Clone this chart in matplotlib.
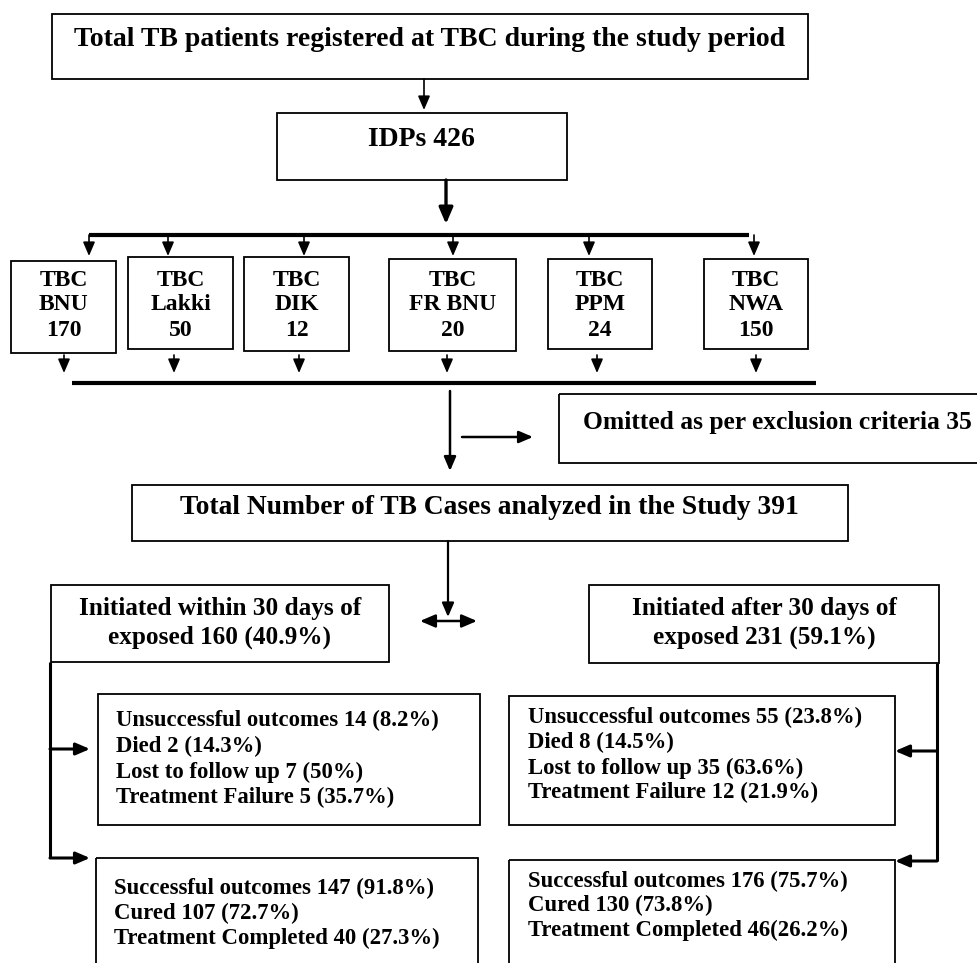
import matplotlib
matplotlib.use("Agg")
import matplotlib.pyplot as plt
from matplotlib.patches import Rectangle

# ---------------- data ----------------
title_text = "Total TB patients registered at TBC during the study period"
idps_total = 426
centre_names = ["BNU", "Lakki", "DIK", "FR BNU", "PPM", "NWA"]
centre_counts = [170, 50, 12, 20, 24, 150]
excluded = 35
analyzed = 391
early_n, early_pct = 160, 40.9
late_n, late_pct = 231, 59.1
early_unsuccess = [("Unsuccessful outcomes", "14 (8.2%)"), ("Died", "2 (14.3%)"),
                   ("Lost to follow up", "7 (50%)"), ("Treatment Failure", "5 (35.7%)")]
late_unsuccess = [("Unsuccessful outcomes", "55 (23.8%)"), ("Died", "8 (14.5%)"),
                  ("Lost to follow up", "35 (63.6%)"), ("Treatment Failure", "12 (21.9%)")]
early_success = [("Successful outcomes", "147 (91.8%)"), ("Cured", "107 (72.7%)"),
                 ("Treatment Completed", "40 (27.3%)")]
late_success = [("Successful outcomes", "176 (75.7%)"), ("Cured", "130 (73.8%)"),
                ("Treatment Completed", "46(26.2%)")]

# ---------------- layout ----------------
W, H = 977, 963
fig = plt.figure(figsize=(W / 100, H / 100), dpi=100)
ax = fig.add_axes([0, 0, 1, 1])
ax.set_xlim(0, W)
ax.set_ylim(H, 0)
ax.axis("off")

FONT = dict(family="Liberation Serif", weight="bold", color="black")
BOX_LW = 1.3
THIN = 1.2
THICK = 3.0


def box(x0, y0, x1, y1):
    ax.add_patch(Rectangle((x0, y0), x1 - x0, y1 - y0, fill=False,
                           edgecolor="black", linewidth=BOX_LW, clip_on=True))


def arrow(x0, y0, x1, y1, lw=THIN, style="-|>", ms=12):
    ax.annotate("", xy=(x1, y1), xytext=(x0, y0),
                arrowprops=dict(arrowstyle=style + ",head_length=0.7,head_width=0.3",
                                mutation_scale=ms, lw=lw, color="black",
                                shrinkA=0, shrinkB=0))


def line(xs, ys, lw=THIN):
    ax.plot(xs, ys, color="black", linewidth=lw, solid_capstyle="butt")


# top box
box(52, 14, 808, 79)
ax.text(430, 40, title_text, ha="center", va="center", fontsize=20, **FONT)
arrow(424, 79, 424, 110)

# IDPs box
box(277, 113, 567, 180)
ax.text(421, 140, f"IDPs {idps_total}", ha="center", va="center", fontsize=20, **FONT)
arrow(446, 180, 446, 224, lw=2.4, ms=14)

# distribution bar
line([89, 749], [235, 235], lw=THICK)
top_arrow_x = [89, 168, 304, 453, 589, 754]
for x in top_arrow_x:
    arrow(x, 235, x, 256)

centre_boxes = [(11, 261, 116, 353), (128, 257, 233, 349), (244, 257, 349, 351),
                (389, 259, 516, 351), (548, 259, 652, 349), (704, 259, 808, 349)]
for (x0, y0, x1, y1), name, cnt in zip(centre_boxes, centre_names, centre_counts):
    box(x0, y0, x1, y1)
    cx = (x0 + x1) / 2
    for i, s in enumerate(["TBC", name, str(cnt)]):
        ax.text(cx, 280 + 25 * i, s, ha="center", va="center", fontsize=17, **FONT)

bottom_arrow_x = [64, 174, 299, 447, 597, 756]
for x in bottom_arrow_x:
    arrow(x, 355, x, 373)
line([72, 816], [383, 383], lw=THICK)

# to analysed + exclusion
arrow(450, 391, 450, 471, lw=1.8)
arrow(462, 437, 533, 437, lw=1.8)
box(559, 394, 990, 463)
ax.text(777, 423, f"Omitted as per exclusion criteria {excluded}", ha="center",
        va="center", fontsize=18.4, **FONT)

box(132, 485, 848, 541)
ax.text(489, 508, f"Total Number of TB Cases analyzed in the Study {analyzed}",
        ha="center", va="center", fontsize=19.8, **FONT)
arrow(448, 541, 448, 617, lw=1.6)
arrow(420, 621, 477, 621, lw=1.8, style="<|-|>", ms=13)

# groups
box(51, 585, 389, 662)
ax.text(220, 608, "Initiated within 30 days of", ha="center", va="center", fontsize=18.2, **FONT)
ax.text(220, 637, f"exposed {early_n} ({early_pct}%)", ha="center", va="center", fontsize=18.2, **FONT)
box(589, 585, 939, 663)
ax.text(764, 608, "Initiated after 30 days of", ha="center", va="center", fontsize=18.2, **FONT)
ax.text(764, 637, f"exposed {late_n} ({late_pct}%)", ha="center", va="center", fontsize=18.2, **FONT)

# brackets
line([50, 50], [662, 858], lw=2.2)
arrow(50, 749, 90, 749, lw=2.2)
arrow(50, 858, 90, 858, lw=2.2)
line([937, 937], [663, 861], lw=2.2)
arrow(937, 751, 895, 751, lw=2.2)
arrow(937, 861, 895, 861, lw=2.2)

# outcome boxes
def outcome_box(x0, y0, x1, y1, tx, ys, rows):
    box(x0, y0, x1, y1)
    for y, (lab, val) in zip(ys, rows):
        ax.text(tx, y, f"{lab} {val}", ha="left", va="center", fontsize=16.4, **FONT)


outcome_box(98, 694, 480, 825, 116, [720, 746, 772, 797], early_unsuccess)
outcome_box(509, 696, 895, 825, 528, [717, 742, 768, 792], late_unsuccess)
outcome_box(96, 858, 478, 990, 114, [888, 913, 938], early_success)
outcome_box(509, 860, 895, 990, 528, [881, 905, 930], late_success)

fig.savefig("out.png", dpi=100)
